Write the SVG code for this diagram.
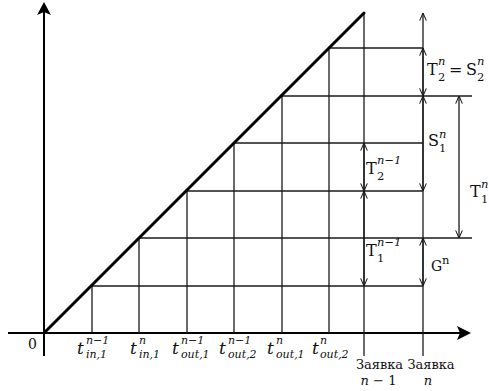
<svg xmlns="http://www.w3.org/2000/svg" width="489" height="391" viewBox="0 0 489 391">
<style>
.ax{stroke:#000;stroke-width:2;fill:none}
.gr{stroke:#1a1a1a;stroke-width:1.3;fill:none}
.dm{stroke:#1a1a1a;stroke-width:1.3;fill:none}
.diag{stroke:#000;stroke-width:3;fill:none;stroke-linecap:round}
text{font-family:"DejaVu Serif","Liberation Serif",serif;fill:#111}
.it{font-style:italic}
.m{font-size:16px}
.s{font-size:11.5px}
.t{font-size:17px;font-style:italic}
.ts{font-size:11px;font-style:italic}
.lb{font-size:13px}
</style>
<defs>
<marker id="oa" viewBox="0 0 10 10" refX="10" refY="5" markerWidth="8" markerHeight="8" markerUnits="userSpaceOnUse" orient="auto-start-reverse">
<path d="M0.5,0.8 L10,5 L0.5,9.2" fill="none" stroke="#1a1a1a" stroke-width="1.3"/>
</marker>
</defs>
<rect width="489" height="391" fill="#fff"/>

<g id="axes">
<line class="ax" x1="44" y1="356" x2="44" y2="10"/>
<polygon points="44,2 37,15 44,12 51,15" fill="#000"/>
<line class="ax" x1="8" y1="333" x2="463" y2="333"/>
<polygon points="471,333 457,326 460,333 457,340" fill="#000"/>
</g>

<g id="grid">
<line class="gr" x1="92" y1="333" x2="92" y2="285"/>
<line class="gr" x1="139" y1="333" x2="139" y2="238"/>
<line class="gr" x1="187" y1="333" x2="187" y2="191"/>
<line class="gr" x1="234" y1="333" x2="234" y2="143"/>
<line class="gr" x1="282" y1="333" x2="282" y2="96"/>
<line class="gr" x1="329" y1="333" x2="329" y2="48"/>
<line class="gr" x1="364" y1="13" x2="364" y2="356"/>
<line class="gr" x1="423" y1="48" x2="423" y2="356"/>
<line class="gr" x1="92" y1="286" x2="423" y2="286"/>
<line class="gr" x1="139" y1="238" x2="472" y2="238"/>
<line class="gr" x1="187" y1="191" x2="423" y2="191"/>
<line class="gr" x1="234" y1="143" x2="423" y2="143"/>
<line class="gr" x1="282" y1="96" x2="472" y2="96"/>
<line class="gr" x1="329" y1="48" x2="423" y2="48"/>
</g>

<g id="diagonal">
<line class="diag" x1="44" y1="333" x2="364" y2="13"/>
</g>

<g id="connectors">
<line class="dm" x1="423" y1="13" x2="423" y2="48" marker-start="url(#oa)"/>
<line class="dm" x1="423" y1="48" x2="423" y2="96" marker-start="url(#oa)" marker-end="url(#oa)"/>
<line class="dm" x1="423" y1="96" x2="423" y2="191" marker-start="url(#oa)" marker-end="url(#oa)"/>
<line class="dm" x1="423" y1="238" x2="423" y2="286" marker-start="url(#oa)" marker-end="url(#oa)"/>
<line class="dm" x1="364" y1="143" x2="364" y2="191" marker-start="url(#oa)" marker-end="url(#oa)"/>
<line class="dm" x1="364" y1="191" x2="364" y2="286" marker-start="url(#oa)" marker-end="url(#oa)"/>
<line class="dm" x1="459" y1="96" x2="459" y2="238" marker-start="url(#oa)" marker-end="url(#oa)"/>
</g>

<g id="dim-labels">
<text class="m" x="427" y="75">T</text><text class="s it" x="438" y="65">n</text><text class="s" x="438" y="81">2</text>
<text class="m" x="449" y="75">=</text>
<text class="m" x="466" y="75">S</text><text class="s it" x="477" y="65">n</text><text class="s" x="477" y="81">2</text>

<text class="m" x="428" y="146">S</text><text class="s it" x="439" y="138">n</text><text class="s" x="439" y="152">1</text>

<text class="m" x="366" y="174">T</text><text class="s it" x="377" y="164">n−1</text><text class="s" x="377" y="180">2</text>

<text class="m" x="470" y="197">T</text><text class="s it" x="481" y="188">n</text><text class="s" x="481" y="203">1</text>

<text class="m" x="366" y="256">T</text><text class="s it" x="377" y="246">n−1</text><text class="s" x="377" y="262">1</text>

<text class="m" x="431" y="271" style="font-size:14px">G</text><text class="s" x="442" y="264">n</text>
</g>

<g id="axis-labels">
<text x="28" y="349" style="font-size:14px">0</text>

<text class="t" x="77" y="354">t</text><text class="ts" x="86" y="344">n−1</text><text class="ts" x="86" y="358">in,1</text>
<text class="t" x="130" y="354">t</text><text class="ts" x="139" y="344">n</text><text class="ts" x="139" y="358">in,1</text>
<text class="t" x="172" y="354">t</text><text class="ts" x="181" y="344">n−1</text><text class="ts" x="181" y="358">out,1</text>
<text class="t" x="219" y="354">t</text><text class="ts" x="228" y="344">n−1</text><text class="ts" x="228" y="358">out,2</text>
<text class="t" x="267" y="354">t</text><text class="ts" x="276" y="344">n</text><text class="ts" x="276" y="358">out,1</text>
<text class="t" x="312" y="354">t</text><text class="ts" x="320" y="344">n</text><text class="ts" x="320" y="358">out,2</text>

<text class="lb" x="379.5" y="369" text-anchor="middle">Заявка</text>
<text class="lb" x="378.5" y="385" text-anchor="middle"><tspan class="it">n</tspan> − 1</text>
<text class="lb" x="431" y="369" text-anchor="middle">Заявка</text>
<text class="lb it" x="428" y="385" text-anchor="middle">n</text>
</g>
</svg>
